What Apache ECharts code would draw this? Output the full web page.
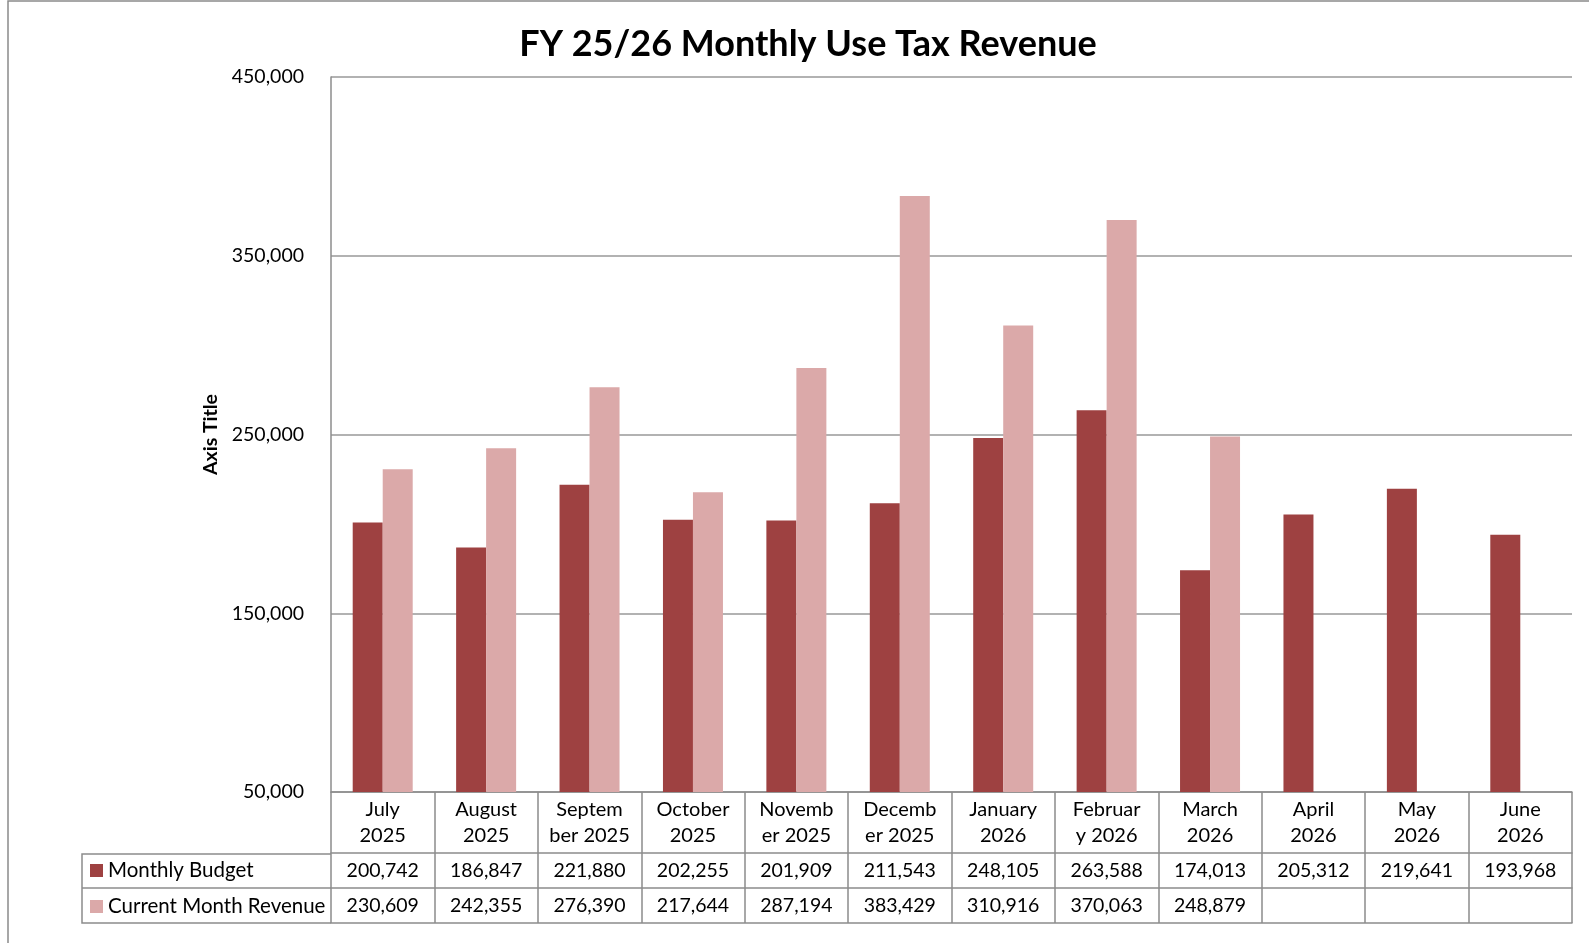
<!DOCTYPE html>
<html>
<head>
    <meta charset="UTF-8">
    <title>FY 25/26 Monthly Use Tax Revenue</title>
    <script src="https://cdn.jsdelivr.net/npm/echarts@6/dist/echarts.min.js"></script>
    <style type="text/css">
    * {
        margin: 0;
        padding: 0;
    }
    body {
        background-color: #ffffff;
    }
    #chart {
        width: 1589px;
        height: 943px;
    }
    </style>
</head>
<body>
    <div id="chart"></div>
    <script>
        // data
        var months = ['July\n2025', 'August\n2025', 'Septem\nber 2025', 'October\n2025', 'Novemb\ner 2025', 'Decemb\ner 2025',
                      'January\n2026', 'Februar\ny 2026', 'March\n2026', 'April\n2026', 'May\n2026', 'June\n2026'];
        var budget = [200742, 186847, 221880, 202255, 201909, 211543, 248105, 263588, 174013, 205312, 219641, 193968];
        var revenue = [230609, 242355, 276390, 217644, 287194, 383429, 310916, 370063, 248879, null, null, null];
        var seriesNames = ['Monthly Budget', 'Current Month Revenue'];

        var FONT = 'Lato';
        var LINE = '#8c8c8c';

        function fmt(v) {
            if (v === null || v === undefined) return '';
            return v.toLocaleString('en-US');
        }

        // plot area (table sits below it)
        var gLeft = 331, gRight = 17, gTop = 77, gBottom = 151;
        var rowHead = 61, rowH = 35;

        var chart = echarts.init(document.getElementById('chart'), null, {renderer: 'canvas'});

        // one category axis per table row
        function tableAxis(offset, tickLen, values, showLine) {
            return {
                type: 'category',
                position: 'bottom',
                gridIndex: 0,
                offset: offset,
                data: months,
                axisLine: {show: showLine, lineStyle: {color: LINE, width: 1.5}},
                axisTick: {show: tickLen > 0, length: tickLen, interval: 0, lineStyle: {color: LINE, width: 1.5}},
                axisLabel: {
                    show: !!values,
                    interval: 0,
                    margin: 8,
                    fontFamily: FONT, fontSize: 19.5, color: '#000',
                    formatter: function (v, i) { return values ? fmt(values[i]) : ''; }
                },
                splitLine: {show: false}
            };
        }

        var option = {
            backgroundColor: '#fff',
            animation: false,
            color: ['#9e4141', '#dba9a9'],
            title: {
                text: 'FY 25/26 Monthly Use Tax Revenue',
                left: 803, top: 21, textAlign: 'center',
                textStyle: {fontFamily: FONT, fontSize: 36, fontWeight: 'bold', color: '#000'}
            },
            legend: {
                data: seriesNames,
                orient: 'vertical',
                left: 90, top: 860, padding: 0,
                itemWidth: 13, itemHeight: 13, itemGap: 15,
                icon: 'rect',
                selectedMode: false,
                textStyle: {fontFamily: FONT, fontSize: 20.5, color: '#000', lineHeight: 20}
            },
            grid: {left: gLeft, right: gRight, top: gTop, bottom: gBottom, containLabel: false},
            xAxis: [
                {
                    type: 'category',
                    data: months,
                    axisLine: {show: true, lineStyle: {color: LINE, width: 1.5}},
                    axisTick: {show: true, length: rowHead, interval: 0, lineStyle: {color: LINE, width: 1.5}},
                    axisLabel: {interval: 0, margin: 5, fontFamily: FONT, fontSize: 20, color: '#000', lineHeight: 26, align: 'center'}
                },
                tableAxis(rowHead, rowH, budget, true),
                tableAxis(rowHead + rowH, rowH, revenue, true),
                tableAxis(rowHead + rowH * 2, 0, null, true)
            ],
            yAxis: {
                type: 'value',
                min: 50000, max: 450000, interval: 100000,
                name: 'Axis Title',
                nameLocation: 'middle',
                nameRotate: 90,
                nameGap: 108,
                nameTextStyle: {fontFamily: FONT, fontSize: 19.5, fontWeight: 'bold', color: '#000'},
                axisLine: {show: true, lineStyle: {color: LINE, width: 1.5}},
                axisTick: {show: false},
                axisLabel: {margin: 27, fontFamily: FONT, fontSize: 19.5, color: '#000', formatter: fmt},
                splitLine: {lineStyle: {color: '#999', width: 1.5}}
            },
            series: [
                {name: seriesNames[0], type: 'bar', data: budget, barWidth: 30, barGap: '0%'},
                {name: seriesNames[1], type: 'bar', data: revenue, barWidth: 30, barGap: '0%'}
            ],
            graphic: [
                // outer chart frame (cropped at right and bottom)
                {type: 'rect', shape: {x: 8, y: 1, width: 1700, height: 1000}, style: {fill: null, stroke: '#8a8a8a', lineWidth: 1.5}, silent: true},
                // legend column of the data table
                {type: 'polyline', shape: {points: [[gLeft, 854], [82, 854], [82, 923], [gLeft, 923]]}, style: {fill: null, stroke: LINE, lineWidth: 1.5}, silent: true},
                {type: 'line', shape: {x1: 82, y1: 888, x2: gLeft, y2: 888}, style: {stroke: LINE, lineWidth: 1.5}, silent: true}
            ]
        };

        chart.setOption(option);
    </script>
</body>
</html>
